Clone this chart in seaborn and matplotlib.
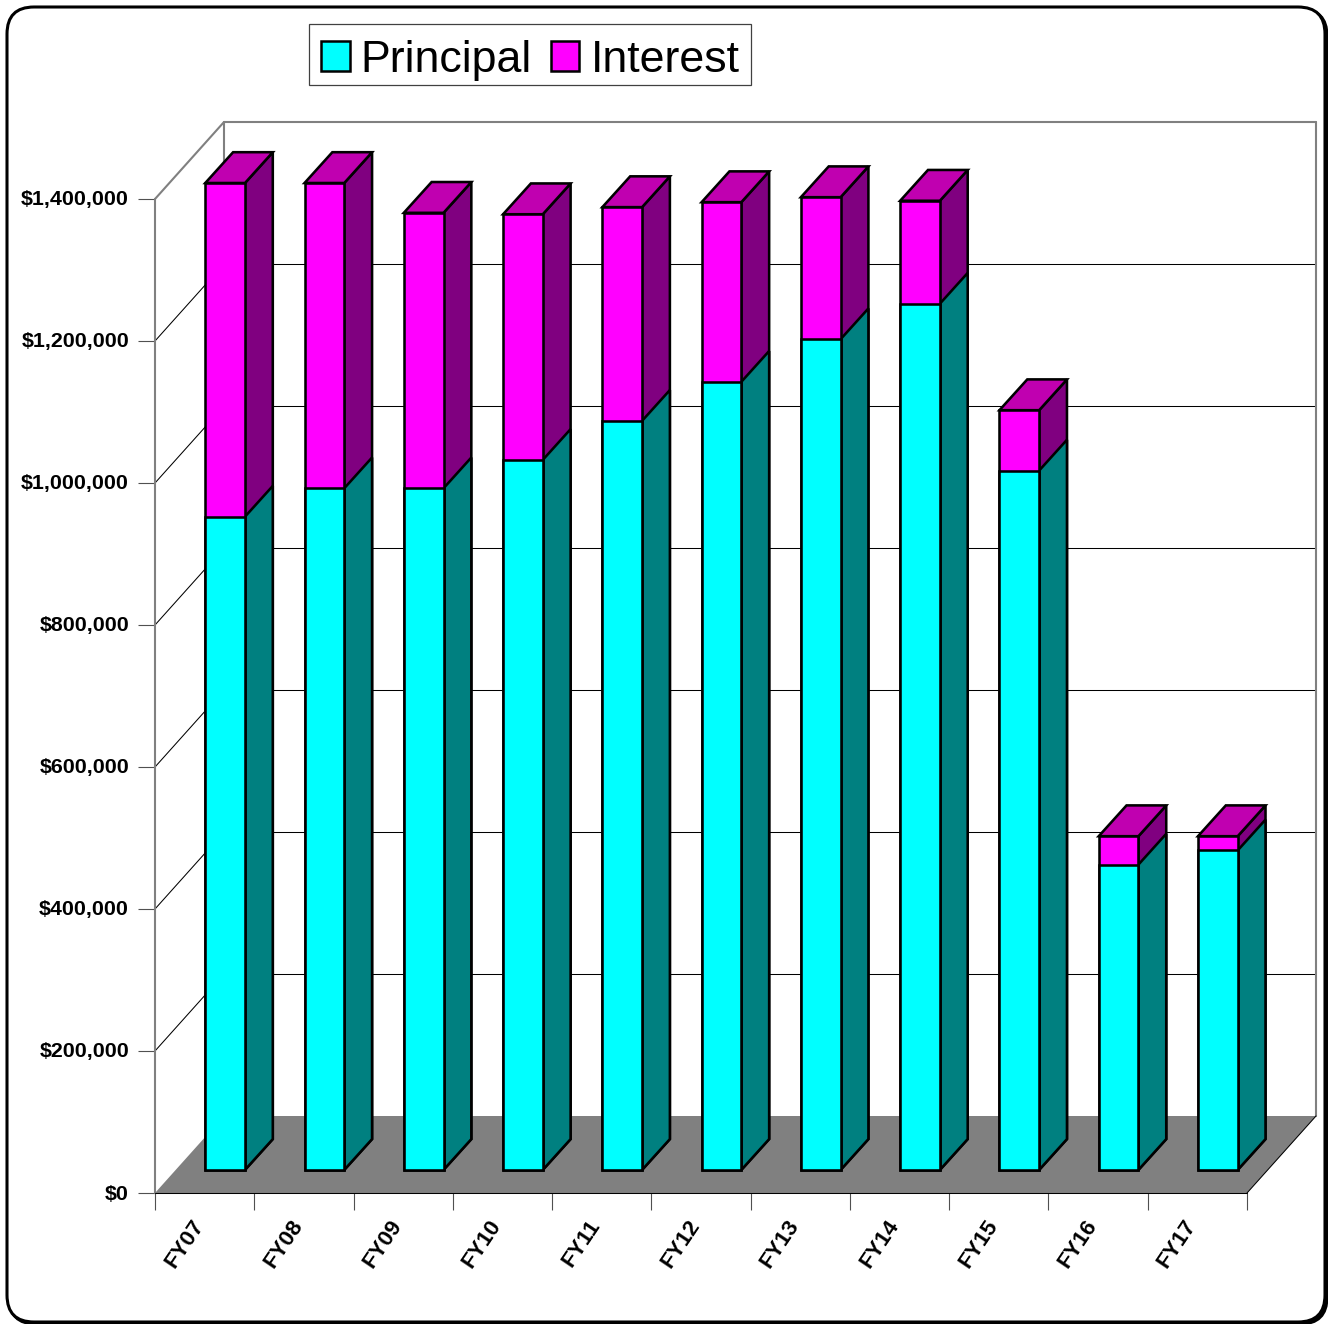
import numpy as np
import pandas as pd
import matplotlib
matplotlib.use("Agg")
import matplotlib.pyplot as plt
from matplotlib.patches import FancyBboxPatch, Patch, Rectangle
from matplotlib.transforms import Affine2D
import seaborn as sns

fiscal_years = ["FY07", "FY08", "FY09", "FY10", "FY11", "FY12", "FY13", "FY14", "FY15", "FY16", "FY17"]
principal = [920000, 960000, 960000, 1000000, 1055000, 1110000, 1170000, 1220000, 985000, 430000, 450000]
interest = [470000, 430000, 388000, 346000, 301000, 253000, 200000, 145000, 85000, 40000, 20000]
y_ticks = [0, 200000, 400000, 600000, 800000, 1000000, 1200000, 1400000]

W, H = 1328, 1324
CYAN, TEAL = "#00FFFF", "#008080"
MAG, MAG_SIDE, MAG_TOP = "#FF00FF", "#800080", "#C000B0"
GRAY = "#808080"

sns.set_style("white")
plt.rcParams["font.family"] = ["Liberation Sans", "DejaVu Sans"]

fig = plt.figure(figsize=(W / 100, H / 100), dpi=100, facecolor="white")

# page frame and legend box, in figure pixels
bg = fig.add_axes([0, 0, 1, 1], zorder=0)
bg.set_xlim(0, W)
bg.set_ylim(H, 0)
bg.axis("off")
for off, fc in ((2, "black"), (0, "white")):
    bg.add_patch(FancyBboxPatch((7 + off, 7 + off), 1318, 1315,
                                boxstyle="round,pad=0,rounding_size=27",
                                fc=fc, ec="black", lw=2.2, clip_on=False))
bg.add_patch(Rectangle((309, 24), 442, 61, fc="white", ec="#404040", lw=0.9))

ax = fig.add_axes([155 / W, (H - 1193) / H, (1247 - 155) / W, (1193 - 199) / H], zorder=1)
ax.patch.set_alpha(0)

df = pd.DataFrame({"year": fiscal_years, "principal": principal, "interest": interest})
df["total"] = df["principal"] + df["interest"]

sns.barplot(data=df, x="year", y="total", color=MAG, saturation=1, width=0.4,
            edgecolor="black", linewidth=1.85, ax=ax, zorder=4)
n_total = len(ax.patches)
sns.barplot(data=df, x="year", y="principal", color=CYAN, saturation=1, width=0.4,
            edgecolor="black", linewidth=1.85, ax=ax, zorder=4)

ax.set_xlim(-0.5, len(fiscal_years) - 0.5)
ax.set_ylim(0, y_ticks[-1])
ax.set_xlabel("")
ax.set_ylabel("")
sns.despine(ax=ax, left=True, bottom=True)

# depth of the chart box, expressed in data units
x_px = (len(fiscal_years)) / (1247 - 155)
y_px = y_ticks[-1] / (1193 - 199)
DX, DY = 69 * x_px, 77 * y_px
x0, x1, y1 = -0.5, len(fiscal_years) - 0.5, y_ticks[-1]

# floor
ax.fill([x0, x1, x1 + DX, x0 + DX], [0, 0, DY, DY], color=GRAY, lw=0, zorder=1, clip_on=False)
ax.plot([x0, x1], [0, 0], color="black", lw=0.75, zorder=1.5, clip_on=False)
ax.plot([x1, x1 + DX], [0, DY], color="black", lw=0.75, zorder=1.5, clip_on=False)

# gridlines on back and side walls
for v in y_ticks[1:-1]:
    ax.plot([x0, x0 + DX], [v, v + DY], color="black", lw=0.75, zorder=1.2, clip_on=False)
    ax.plot([x0 + DX, x1 + DX], [v + DY, v + DY], color="black", lw=0.75, zorder=1.2, clip_on=False)

# wall outlines
ax.plot([x0, x0], [0, y1], color=GRAY, lw=1.5, zorder=1.4, clip_on=False)
ax.plot([x0, x0 + DX], [y1, y1 + DY], color=GRAY, lw=1.5, zorder=1.4, clip_on=False)
ax.plot([x0 + DX, x1 + DX], [y1 + DY, y1 + DY], color=GRAY, lw=1.5, zorder=1.4, clip_on=False)
ax.plot([x1 + DX, x1 + DX], [y1 + DY, DY], color=GRAY, lw=1.5, zorder=1.4, clip_on=False)
ax.plot([x0 + DX, x0 + DX], [DY, y1 + DY], color=GRAY, lw=1.5, zorder=1.4, clip_on=False)

# bars sit between 30% and 70% of the depth
fx, fy = 0.297 * DX, 0.3 * DY
bx, by = 0.7 * DX, 0.7 * DY
shift = Affine2D().translate(fx, fy) + ax.transData
edge = dict(edgecolor="black", linewidth=1.85, joinstyle="miter", clip_on=False, zorder=3)
for i, p in enumerate(ax.patches[:2 * n_total]):
    xl, w, h = p.get_x(), p.get_width(), p.get_height()
    is_total = i < n_total
    p.set_transform(shift)
    p.set_clip_on(False)
    xr = xl + w
    ax.fill([xr + fx, xr + bx, xr + bx, xr + fx],
            [fy, by, h + by, h + fy], facecolor=MAG_SIDE if is_total else TEAL, **edge)
    if is_total:
        ax.fill([xl + fx, xr + fx, xr + bx, xl + bx],
                [h + fy, h + fy, h + by, h + by], facecolor=MAG_TOP, **edge)

# axes ticks and labels
ax.set_yticks(y_ticks)
ax.set_yticklabels([f"${v:,.0f}" for v in y_ticks], fontsize=15.4, fontweight="bold", color="black")
ax.set_xticks(np.arange(x0, x1 + 0.5))
ax.set_xticklabels([])
ax.set_xticks(np.arange(len(fiscal_years)), minor=True)
ax.set_xticklabels(fiscal_years, minor=True, rotation=56, ha="right", va="top",
                   rotation_mode="anchor", fontsize=16, fontweight="bold", color="black")
ax.tick_params(axis="y", which="major", left=True, length=12.2, width=0.8, color="#505050", pad=6.5)
ax.tick_params(axis="x", which="major", bottom=True, length=12.2, width=0.8, color="#505050")
ax.tick_params(axis="x", which="minor", bottom=False, length=0, pad=16.5)
for t in ax.get_yticklabels():
    t.set_transform(t.get_transform() + Affine2D().translate(0, 1))
for t in ax.get_xticklabels(minor=True):
    t.set_transform(t.get_transform() + Affine2D().translate(-14, 0))

handles = [Patch(fc=CYAN, ec="black", lw=1.8, label="Principal"),
           Patch(fc=MAG, ec="black", lw=1.8, label="Interest")]
ax.legend(handles=handles, ncols=2, loc="upper left",
          bbox_to_anchor=(321 / W, (H - 40) / H), bbox_transform=fig.transFigure,
          fontsize=32.2, frameon=False, labelcolor="black",
          borderaxespad=0, borderpad=0, handlelength=0.64, handleheight=0.64,
          handletextpad=0.25, columnspacing=0.42)

fig.savefig("out.png", dpi=100, facecolor="white")
